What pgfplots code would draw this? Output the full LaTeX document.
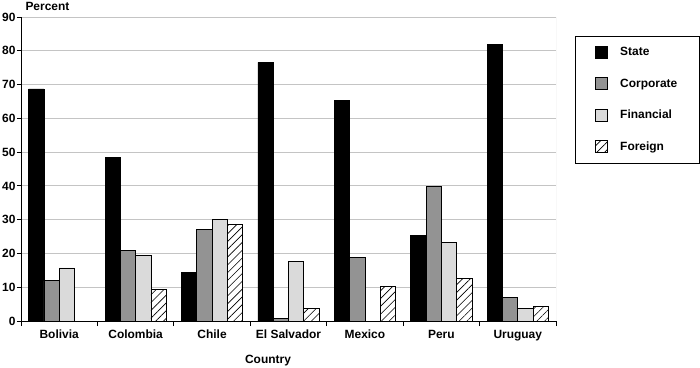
\documentclass[border=0pt]{standalone}
\usepackage{fontspec}
\setmainfont{Liberation Sans}
\usepackage{pgfplots}
\pgfplotsset{compat=1.18}
\usetikzlibrary{patterns.meta}
\definecolor{corp}{HTML}{939393}
\definecolor{fin}{HTML}{DADADA}
\definecolor{gridc}{HTML}{C4C4C4}
\newcommand{\lbl}{\fontsize{12}{14}\selectfont\bfseries}
\begin{document}
\begin{tikzpicture}[font=\lbl]
\path[use as bounding box] (-21bp,-47bp) rectangle (679bp,321bp);
\begin{axis}[
  at={(0,0)}, anchor=south west,
  scale only axis, width=535bp, height=304bp,
  xmin=-0.5, xmax=6.5, ymin=0, ymax=90,
  ytick={0,10,...,90},
  xtick={0,...,6},
  xticklabels={Bolivia,Colombia,Chile,El Salvador,Mexico,Peru,Uruguay},
  minor xtick={-0.5,0.5,...,6.5},
  axis x line*=bottom, axis y line*=left,
  axis line style={black, line width=0.8bp},
  tick align=outside,
  major tick length=4bp, minor tick length=5bp,
  major x tick style={draw=none},
  minor x tick style={black, line width=0.8bp},
  major y tick style={black, line width=0.8bp},
  ymajorgrids, grid style={draw=gridc, line width=0.8bp},
  /pgf/number format/assume math mode=true,
  ticklabel style={font=\lbl},
  yticklabel style={anchor=east, xshift=2bp},
  xticklabel style={anchor=base, yshift=-13bp},
  every axis y label/.style={at={(rel axis cs:0,1)}, anchor=base west, xshift=1bp, yshift=7bp},
  ylabel={Percent},
  every axis x label/.style={at={(rel axis cs:0.4617,0)}, anchor=base, yshift=-42bp},
  xlabel={Country},
  ybar, bar width=0.2,
  every axis plot/.append style={line width=0.8bp, draw=black},
  legend image code/.code={\draw[#1, line width=0.8bp] (0bp,-6bp) rectangle (12bp,6bp);},
  legend cell align=left,
  legend style={at={(1.0355,0.9375)}, anchor=north west, draw=black, line width=0.8bp,
    inner xsep=20bp, inner ysep=9bp, row sep=17.5bp, nodes={inner sep=2bp},
    /tikz/every odd column/.append style={column sep=10bp},
    font=\lbl},
]
\addplot[bar shift=-0.3, fill=black] coordinates {(0,68.7) (1,48.5) (2,14.3) (3,76.6) (4,65.4) (5,25.4) (6,82.0)};
\addlegendentry{State}
\addplot[bar shift=-0.1, fill=corp] coordinates {(0,11.9) (1,20.8) (2,27.0) (3,0.7) (4,18.7) (5,39.8) (6,7.1)};
\addlegendentry{Corporate}
\addplot[bar shift=0.1, fill=fin] coordinates {(0,15.7) (1,19.3) (2,30.1) (3,17.5) (5,23.3) (6,3.6)};
\addlegendentry{Financial}
\addplot[bar shift=0.3, fill=white, postaction={pattern={Lines[angle=45, distance=5.5bp, line width=0.6bp]}}] coordinates {(1,9.4) (2,28.5) (3,3.8) (4,10.2) (5,12.5) (6,4.4)};
\addlegendentry{Foreign}
\draw[gridc, line width=0.8bp] (rel axis cs:1,0) -- (rel axis cs:1,1);
\node[anchor=base] at (rel axis cs:1.1477,0.9605) {Sector};
\end{axis}
\end{tikzpicture}
\end{document}
